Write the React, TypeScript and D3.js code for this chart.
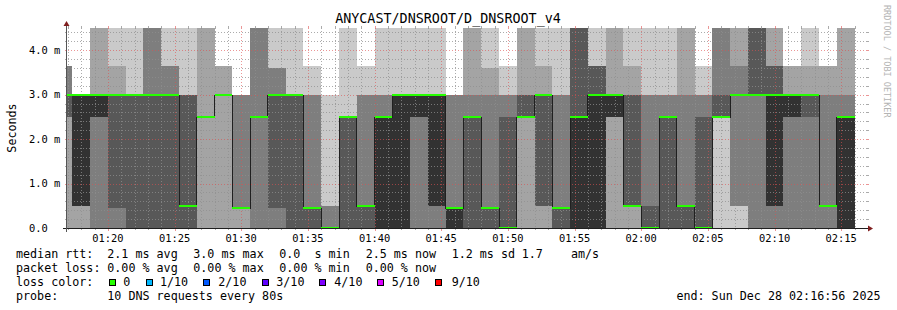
import React from "react";
import * as d3 from "d3";

// ---------- text ----------
const TITLE = "ANYCAST/DNSROOT/D_DNSROOT_v4";
const Y_LABEL = "Seconds";
const WATERMARK = "RRDTOOL / TOBI OETIKER";

// ---------- time window ----------
const VIEW_START = "01:16:56";
const VIEW_END = "02:16:56";
const STEP = 80; // seconds per RRD step
const Y_MAX = 4.5; // ms

// end time of every 80 s step
const stepEnds = [
  "01:17:20", "01:18:40", "01:20:00", "01:21:20", "01:22:40", "01:24:00", "01:25:20", "01:26:40",
  "01:28:00", "01:29:20", "01:30:40", "01:32:00", "01:33:20", "01:34:40", "01:36:00", "01:37:20",
  "01:38:40", "01:40:00", "01:41:20", "01:42:40", "01:44:00", "01:45:20", "01:46:40", "01:48:00",
  "01:49:20", "01:50:40", "01:52:00", "01:53:20", "01:54:40", "01:56:00", "01:57:20", "01:58:40",
  "02:00:00", "02:01:20", "02:02:40", "02:04:00", "02:05:20", "02:06:40", "02:08:00", "02:09:20",
  "02:10:40", "02:12:00", "02:13:20", "02:14:40", "02:16:00",
];

// 10 sorted ping RTTs (ms) per step; OFF = above the graph's top
const OFF = Infinity;
const pings: number[][] = [
  [0, 0, 2.5, 2.5, 3, 3, 3, 3.65, 3.65, 3.65],
  [0, 0, 0.5, 0.5, 0.5, 3, 3, 3, 3, 3],
  [0, 0, 0, 2.5, 2.5, 3, 3, 3, OFF, OFF],
  [0, 0, 0, 0.45, 3, 3, 3, 3, 3.65, OFF],
  [0, 0, 0, 0, 3, 3, 3, 3, 3, OFF],
  [0, 0, 0, 0, 3, 3, 3, OFF, OFF, OFF],
  [0, 0, 0, 0, 3, 3, 3, 3.65, 3.65, OFF],
  [0, 0, 0, 0, 0.5, 0.5, 3, 3, 3, OFF],
  [0, 0, 2.5, 2.5, 2.5, 2.5, 2.5, 2.5, OFF, OFF],
  [0, 0, 3, 3, 3, 3, 3, 3, 3.65, 3.65],
  [0, 0, 0.45, 0.45, 0.45, 0.45, 0.45, 3, 3, 3],
  [0, 0, 0, 2.5, 2.5, 2.5, 2.5, OFF, OFF, OFF],
  [0, 0, 0, 0.45, 3, 3, 3, 3.6, 3.6, OFF],
  [0, 0, 0, 0, 3, 3, 3, 3, 3, OFF],
  [0, 0, 0, 0, 0.45, 0.45, 0.45, 3, 3, 3.65],
  [0, 0, 0, 0, 0, 0, 0, 0.5, 0.5, 3],
  [0, 0, 0, 0, 2.5, 2.5, 2.5, 2.5, 2.5, OFF],
  [0, 0, 0, 0, 0.5, 0.5, 0.5, 3, 3, 3.65],
  [0, 0, 0, 0, 0, 2.5, 2.5, 3, 3, OFF],
  [0, 0, 0, 0, 0, 3, 3, 3, 3, OFF],
  [0, 0, 0, 2.5, 2.5, 3, 3, 3, 3, OFF],
  [0, 0, 0, 0.5, 0.5, 3, 3, 3, 3, OFF],
  [0, 0, 0, 0, 0, 0.45, 0.45, 3, 3, 3],
  [0, 0, 0, 0, 2.5, 2.5, 2.5, 3, OFF, OFF],
  [0, 0, 0, 0, 0.45, 0.45, 0.45, 3, 3.6, OFF],
  [0, 0, 0, 0, 0, 0, 2.5, 3, 3, 3.65],
  [0, 0, 2.5, 2.5, 2.5, 2.5, 3, 3, OFF, OFF],
  [0, 0, 0.5, 0.5, 3, 3, 3, 3, 3.65, OFF],
  [0, 0, 0, 0, 0.45, 0.45, 0.45, 3, 3, OFF],
  [0, 0, 0, 0, 0, 2.5, OFF, OFF, OFF, OFF],
  [0, 0, 0, 0, 0, 3, 3.65, 3.65, 3.65, OFF],
  [0, 0, 2.5, 2.5, 2.5, 3, 3, 3, OFF, OFF],
  [0, 0, 0.5, 0.5, 0.5, 0.5, 3, 3, 3.65, OFF],
  [0, 0, 0, 0, 0, 0, 0.5, 3, 3, OFF],
  [0, 0, 0, 0, 2.5, 2.5, 2.5, 3, 3, OFF],
  [0, 0, 0, 0, 0.5, 0.5, 0.5, 3, OFF, OFF],
  [0, 0, 0, 0, 0, 0, 2.5, 3, 3, 3.65],
  [0, 2.5, 2.5, 2.5, 2.5, 2.5, 3, OFF, OFF, OFF],
  [0, 0.5, 0.5, 3, 3, 3, 3, 3.65, OFF, OFF],
  [0, 0, 0, 3, 3, 3, OFF, OFF, OFF, OFF],
  [0, 0, 0, 0.5, 0.5, 3, 3.65, 3.65, OFF, OFF],
  [0, 0, 0, 2.5, 2.5, 3, 3, 3, 3.65, 3.65],
  [0, 0, 0, 2.5, 3, 3, 3, 3, 3.65, OFF],
  [0, 0, 0, 0.5, 0.5, 0.5, 0.5, 3, 3.65, 3.65],
  [0, 0, 0, 0, 0, 2.5, 2.5, 3, OFF, OFF],
];

// ---------- axes ----------
const yMajorTicks = [0, 1, 2, 3, 4];
const yTickText = ["0.0", "1.0 m", "2.0 m", "3.0 m", "4.0 m"];
const xTickText = [
  "01:20", "01:25", "01:30", "01:35", "01:40", "01:45",
  "01:50", "01:55", "02:00", "02:05", "02:10", "02:15",
];

// ---------- colours ----------
const smokeGrays = ["#cacaca", "#a4a4a4", "#7e7e7e", "#585858", "#323232"];
const lossLabels = ["0", "1/10", "2/10", "3/10", "4/10", "5/10", "9/10"];
const lossColors = ["#26ff00", "#00b8ff", "#0059ff", "#5e00ff", "#7e00ff", "#dd00ff", "#ff0000"];

// ---------- legend ----------
const rttItems = ["2.1 ms avg", "3.0 ms max", "0.0  s min", "2.5 ms now", "1.2 ms sd", "1.7    am/s"];
const lossItems = ["0.00 % avg", "0.00 % max", "0.00 % min", "0.00 % now"];
const probeText = "10 DNS requests every 80s";
const endText = "end: Sun Dec 28 02:16:56 2025";

// ---------- layout ----------
const W = 897;
const H = 310;
const PL = 67;
const PR = 867;
const PT = 28;
const PB = 228;
const MONO = "'DejaVu Sans Mono', monospace";
const GRID = "rgba(143,143,143,0.75)";
const MGRID = "rgba(222,80,80,0.6)";
const AXIS = "#1f1f1f";
const ARROW = "#801f1f";

const toSec = (s: string) => {
  const [h, m, sec] = s.split(":").map(Number);
  return h * 3600 + m * 60 + (sec || 0);
};

export default function App() {
  const t0 = toSec(VIEW_START);
  const t1 = toSec(VIEW_END);
  const x = d3.scaleLinear().domain([t0, t1]).range([PL, PR]);
  const y = d3.scaleLinear().domain([0, Y_MAX]).range([PB, PT]).clamp(true);
  const yv = (v: number) => y(Math.min(v, Y_MAX));

  const cols = stepEnds.map((e, i) => ({ start: toSec(e) - STEP, end: toSec(e), p: pings[i] }));
  const last = cols[cols.length - 1];
  const pts = [...cols.map((c) => ({ t: c.start, p: c.p })), { t: last.end, p: last.p }];

  const smoke = smokeGrays.map((color, i) => {
    const a = d3
      .area<{ t: number; p: number[] }>()
      .curve(d3.curveStepAfter)
      .x((d) => x(d.t))
      .y0((d) => yv(d.p[i]))
      .y1((d) => yv(d.p[9 - i]));
    return { color, d: a(pts) || "" };
  });

  const med = (p: number[]) => p[5];
  const medLine =
    d3
      .line<{ t: number; p: number[] }>()
      .curve(d3.curveStepAfter)
      .x((d) => x(d.t))
      .y((d) => Math.round(yv(med(d.p))) + 0.5)(pts) || "";

  const minuteTicks = d3.range(Math.ceil(t0 / 60) * 60, t1 + 1, 60);
  const majorSecs = xTickText.map((s) => toSec(s + ":00"));
  const minorX = minuteTicks.filter((t) => !majorSecs.includes(t));
  const minorY = d3.range(1, 23).filter((i) => i % 5 !== 0).map((i) => i * 0.2);

  const px = (v: number) => Math.round(v) + 0.5;

  const rttX = [107.3, 193.3, 279.3, 365.7, 451.7, 521.7];
  const lossX = [107.3, 193.3, 279.3, 365.7];
  const boxX = [109.3, 146, 203.3, 262, 319.3, 377, 435];
  const labX = [123.3, 160, 218.3, 276.3, 334.3, 391.7, 451.7];
  const pre: React.CSSProperties = { whiteSpace: "pre" };

  return (
    <svg
      width={W}
      height={H}
      viewBox={`0 0 ${W} ${H}`}
      style={{ display: "block", position: "absolute", left: 0, top: 0, background: "#fff" }}
    >
      <defs>
        <clipPath id="plotclip">
          <rect x={PL} y={PT} width={PR - PL} height={PB - PT} />
        </clipPath>
      </defs>
      <rect x={0} y={0} width={W} height={H} fill="#fff" />

      {/* smoke */}
      <g clipPath="url(#plotclip)" shapeRendering="crispEdges">
        {smoke.map((s, i) => (
          <path key={i} d={s.d} fill={s.color} />
        ))}
      </g>

      {/* grid */}
      <g fill="none" strokeWidth={1} strokeDasharray="1,2" shapeRendering="crispEdges">
        {minorY.map((v, i) => (
          <line key={"hy" + i} x1={PL + 1} x2={PR} y1={px(y(v))} y2={px(y(v))} stroke={GRID} />
        ))}
        {minorX.map((t, i) => (
          <line key={"vx" + i} x1={px(x(t))} x2={px(x(t))} y1={PT} y2={PB} stroke={GRID} />
        ))}
        {yMajorTicks.slice(1).map((v, i) => (
          <line key={"my" + i} x1={PL + 1} x2={PR} y1={px(y(v))} y2={px(y(v))} stroke={MGRID} />
        ))}
        {majorSecs.map((t, i) => (
          <line key={"mx" + i} x1={px(x(t))} x2={px(x(t))} y1={PT} y2={PB} stroke={MGRID} />
        ))}
      </g>

      {/* tick marks */}
      <g strokeWidth={1} shapeRendering="crispEdges">
        {minorX.map((t, i) => (
          <g key={"tx" + i} stroke={GRID}>
            <line x1={px(x(t))} x2={px(x(t))} y1={PB} y2={PB + 2} />
            <line x1={px(x(t))} x2={px(x(t))} y1={PT - 2} y2={PT} />
          </g>
        ))}
        {majorSecs.map((t, i) => (
          <g key={"tmx" + i} stroke={MGRID}>
            <line x1={px(x(t))} x2={px(x(t))} y1={PB} y2={PB + 3} />
            <line x1={px(x(t))} x2={px(x(t))} y1={PT - 2} y2={PT} />
          </g>
        ))}
        {minorY.map((v, i) => (
          <g key={"ty" + i} stroke={GRID}>
            <line x1={PL - 2} x2={PL} y1={px(y(v))} y2={px(y(v))} />
            <line x1={PR} x2={PR + 2} y1={px(y(v))} y2={px(y(v))} />
          </g>
        ))}
        {yMajorTicks.slice(1).map((v, i) => (
          <g key={"tmy" + i} stroke={MGRID}>
            <line x1={PL - 2} x2={PL} y1={px(y(v))} y2={px(y(v))} />
            <line x1={PR} x2={PR + 2} y1={px(y(v))} y2={px(y(v))} />
          </g>
        ))}
      </g>

      {/* median */}
      <g clipPath="url(#plotclip)" shapeRendering="crispEdges">
        <path d={medLine} fill="none" stroke="#202020" strokeWidth={1} />
        {cols.map((c, i) => {
          const xa = Math.max(x(c.start), PL);
          const xb = x(c.end);
          const ym = yv(med(c.p));
          return <rect key={i} x={xa} width={xb - xa} y={ym - 1} height={2} fill={lossColors[0]} />;
        })}
      </g>

      {/* axes */}
      <g shapeRendering="crispEdges">
        <line x1={PL - 4} x2={PR + 2} y1={PB + 0.5} y2={PB + 0.5} stroke={AXIS} />
        <line x1={PL - 0.5} x2={PL - 0.5} y1={PB + 4} y2={PT - 3} stroke="#555" />
      </g>
      <path d={`M${PR + 1},${PB - 2.5}L${PR + 6},${PB + 0.5}L${PR + 1},${PB + 3.5}Z`} fill={ARROW} />
      <path d={`M${PL - 3.5},${PT - 2}L${PL - 0.5},${PT - 7}L${PL + 2.5},${PT - 2}Z`} fill={ARROW} />

      {/* axis labels */}
      <g fontFamily={MONO} fontSize={10.4} fill="#000">
        {yMajorTicks.map((v, i) => (
          <text key={"yl" + i} x={29} y={y(v) + 3.8} style={pre}>
            {yTickText[i]}
          </text>
        ))}
        {xTickText.map((s, i) => (
          <text key={"xl" + i} x={x(majorSecs[i])} y={242} textAnchor="middle">
            {s}
          </text>
        ))}
      </g>

      <text x={448} y={23} textAnchor="middle" fontFamily={MONO} fontSize={13.4} fill="#000">
        {TITLE}
      </text>
      <text
        transform={`translate(16, ${(PT + PB) / 2}) rotate(-90)`}
        textAnchor="middle"
        fontFamily={MONO}
        fontSize={11.7}
        fill="#000"
      >
        {Y_LABEL}
      </text>
      <text transform="translate(884, 5) rotate(90)" fontFamily={MONO} fontSize={8.5} fill="#b4b4b4">
        {WATERMARK}
      </text>

      {/* legend */}
      <g fontFamily={MONO} fontSize={11.7} fill="#000" style={pre}>
        <text x={16} y={258.4}>median rtt:</text>
        {rttItems.map((s, i) => (
          <text key={"r" + i} x={rttX[i]} y={258.4} style={pre}>
            {s}
          </text>
        ))}
        <text x={16} y={272.3}>packet loss:</text>
        {lossItems.map((s, i) => (
          <text key={"l" + i} x={lossX[i]} y={272.3} style={pre}>
            {s}
          </text>
        ))}
        <text x={16} y={286.2}>loss color:</text>
        {lossLabels.map((s, i) => (
          <g key={"c" + i}>
            <rect
              x={Math.round(boxX[i]) + 0.5}
              y={279.5}
              width={6}
              height={6}
              fill={lossColors[i]}
              stroke="#000"
              strokeWidth={1}
              shapeRendering="crispEdges"
            />
            <text x={labX[i]} y={286.2}>
              {s}
            </text>
          </g>
        ))}
        <text x={16} y={300.1}>probe:</text>
        <text x={107.3} y={300.1}>{probeText}</text>
        <text x={880.5} y={300.1} textAnchor="end">
          {endText}
        </text>
      </g>
    </svg>
  );
}
